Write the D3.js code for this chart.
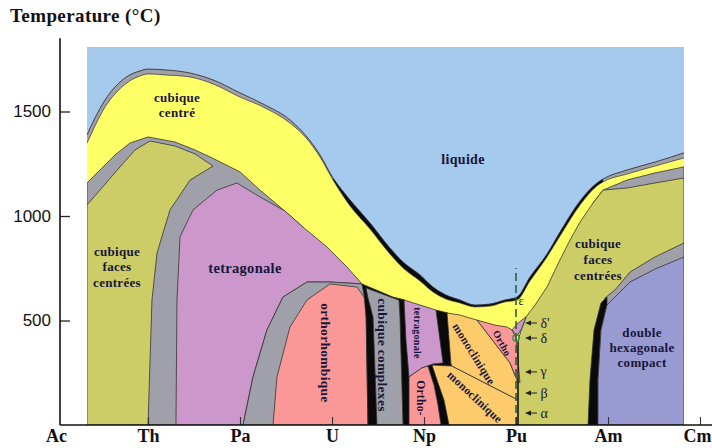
<!DOCTYPE html>
<html><head><meta charset="utf-8">
<script src="https://cdn.jsdelivr.net/npm/d3@7"></script>
<style>body{margin:0;background:#fff}svg{display:block}</style>
</head><body>
<svg id="chart" width="712" height="448"></svg>
<script>
// ---------- data: composition index (Ac=0 ... Cm=7), temperature °C ----------
const elements = ["Ac","Th","Pa","U","Np","Pu","Am","Cm"];
const tempTicks = [500, 1000, 1500];
const plotExtent = [0.337, 6.826];
const plotTopT = 1809;

const liquidus = [[0.337,1388],[0.424,1469],[0.533,1555],[0.641,1617],[0.783,1670],[0.913,1694],[1.0,1703],[1.185,1699],[1.457,1684],[1.707,1651],[2.0,1589],[2.25,1536],[2.543,1460],[2.728,1378],[2.87,1292],[3.011,1182],[3.196,1077],[3.413,967],[3.63,847],[3.772,780],[3.957,718],[4.098,660],[4.239,622],[4.391,598],[4.554,574],[4.717,579],[4.88,598],[5.011,612],[5.152,708],[5.337,818],[5.478,923],[5.696,1072],[5.88,1158],[5.946,1177],[6.207,1220],[6.511,1258],[6.826,1302]];
const bccTop = [[0.337,1349],[0.424,1431],[0.533,1522],[0.641,1584],[0.783,1641],[0.913,1670],[1.0,1680],[1.185,1675],[1.457,1665],[1.707,1632],[2.0,1569],[2.25,1522],[2.543,1445],[2.728,1369],[2.87,1282],[3.011,1172],[3.196,1048],[3.413,938],[3.63,818],[3.772,751],[3.957,689],[4.098,636],[4.239,603],[4.391,584],[4.554,565],[4.717,569],[4.88,589],[5.011,598],[5.152,689],[5.337,804],[5.478,904],[5.696,1053],[5.88,1144],[5.946,1163],[6.207,1201],[6.511,1239],[6.826,1278]];
const bccBottomLeft = [[0.337,1158],[0.478,1220],[0.641,1292],[0.804,1349],[1.0,1378],[1.293,1354],[1.511,1316],[1.696,1278],[2.0,1211],[2.217,1124],[2.435,1043],[2.685,947],[2.946,852],[3.163,756],[3.304,679]];
const bccBottomRight = [[5.109,517],[5.207,574],[5.337,660],[5.478,790],[5.587,885],[5.696,971],[5.837,1062],[5.946,1124],[6.207,1172],[6.511,1206],[6.826,1235]];
const fccAmTop = [[5.946,1124],[6.207,1134],[6.511,1158],[6.826,1182]];
const fccTh = [[0.337,1053],[0.478,1124],[0.696,1235],[0.859,1316],[1.022,1359],[1.293,1335],[1.511,1297],[1.707,1239],[1.457,1172],[1.239,1029],[1.098,823],[1.043,598],[1.0,0],[0.337,0]];
const tetraPa = [[1.967,1158],[2.217,1091],[2.489,1024],[2.685,947],[2.946,852],[3.163,756],[3.326,675],[2.978,684],[2.728,684],[2.467,612],[2.293,455],[2.141,230],[2.033,0],[1.304,0],[1.315,598],[1.348,900],[1.489,1029],[1.75,1124]];
const gammaUBand = [[2.033,0],[2.141,230],[2.293,455],[2.467,612],[2.728,684],[2.978,684],[3.326,675],[3.391,598],[3.413,0]];
const orthoU = [[2.359,0],[2.402,230],[2.543,469],[2.728,598],[2.978,675],[3.272,660],[3.37,598],[3.391,0]];
const betaUEdge = [[3.326,675],[3.663,612],[3.793,598],[3.815,517],[3.87,0],[3.391,0],[3.37,517],[3.348,622]];
const betaU = [[3.37,656],[3.663,608],[3.728,598],[3.739,517],[3.772,0],[3.489,0],[3.446,517],[3.391,608]];
const npEdge = [[4.13,550],[4.261,536],[4.326,287],[4.283,144],[4.272,0],[4.152,0],[4.033,282]];
const tetraNp = [[3.783,598],[3.957,574],[4.13,550],[4.207,297],[4.098,292],[3.978,273],[3.837,230],[3.804,407]];
const orthoNp = [[3.837,0],[3.837,230],[3.978,273],[4.043,282],[4.109,191],[4.152,96],[4.185,0]];
const monoLower = [[4.087,287],[4.304,282],[5.022,120],[5.022,0],[4.272,0],[4.217,120],[4.141,215]];
const monoUpper = [[4.25,536],[4.391,526],[4.576,502],[4.685,440],[4.826,359],[4.935,297],[5.022,201],[5.022,120],[4.304,282],[4.293,292]];
const orthoPu = [[4.576,502],[4.772,478],[4.902,469],[4.957,455],[5.0,416],[5.022,311],[5.043,201],[4.989,239],[4.935,297],[4.826,359],[4.685,440]];
const deltaPrime = [[4.957,455],[5.022,488],[5.109,517],[5.065,464],[5.011,426]];
const dhcpBand = [[5.967,608],[6.076,646],[6.239,732],[6.511,804],[6.826,871],[6.826,0],[5.891,0],[5.924,455]];
const dhcpEdge = [[5.783,0],[5.804,215],[5.848,455],[5.924,584],[5.989,612],[5.989,574],[5.924,455],[5.891,215],[5.891,0]];
const dhcp = [[5.891,0],[5.891,215],[5.924,455],[5.989,574],[6.239,684],[6.511,746],[6.826,804],[6.826,0]];
const puLine = [[5.0,0],[5.0,751]];
const puAllotropes = [{name:"δ'",t:488},{name:"δ",t:416},{name:"γ",t:254},{name:"β",t:153},{name:"α",t:57}];
const regionLabels = [
  {lines:["liquide"], x:4.424, t:1268, size:14},
  {lines:["cubique","centré"], x:1.315, t:1531, size:13, lh:15.5},
  {lines:["cubique","faces","centrées"], x:0.663, t:756, size:13, lh:15.5},
  {lines:["tetragonale"], x:2.054, t:751, size:14.5},
  {lines:["orthorhombique"], x:2.924, t:345, size:13.5, angle:90},
  {lines:["cubique complexes"], x:3.554, t:335, size:13.5, angle:90},
  {lines:["tetragonale"], x:3.924, t:440, size:10, angle:90},
  {lines:["Ortho-"], x:3.967, t:129, size:11.5, angle:90},
  {lines:["monoclinique"], x:4.543, t:340, size:11.5, angle:58},
  {lines:["monoclinique"], x:4.554, t:134, size:11.5, angle:43},
  {lines:["Ortho"], x:4.848, t:392, size:10, angle:62},
  {lines:["cubique","faces","centrées"], x:5.891, t:794, size:13, lh:16},
  {lines:["double","hexagonale","compact"], x:6.37, t:373, size:13, lh:15}
];

// ---------- drawing ----------
const C = {liquid:"#a6c9ee", bcc:"#ffff66", two:"#a0a0aa", fcc:"#cdcd68", tetra:"#cc98cc",
  ortho:"#fa9898", mono:"#fdca6c", dhcp:"#9a9ad2", black:"#0a0a0a", edge:"#333", text:"#16163a"};
const serif = "'Liberation Serif','Times New Roman',serif";

const svg = d3.select("#chart");
const x = d3.scaleLinear().domain([0, 7]).range([56, 700]);
const y = d3.scaleLinear().domain([0, 1800]).range([425, 48.8]);

svg.append("defs").append("clipPath").attr("id","clip").append("rect")
  .attr("x", x(plotExtent[0])).attr("y", y(plotTopT))
  .attr("width", x(plotExtent[1]) - x(plotExtent[0]))
  .attr("height", y(0) - y(plotTopT));
const field = svg.append("g").attr("clip-path","url(#clip)");

field.append("rect").attr("x", x(plotExtent[0])).attr("y", y(plotTopT))
  .attr("width", x(plotExtent[1]) - x(plotExtent[0])).attr("height", y(0) - y(plotTopT))
  .attr("fill", C.liquid);

const areaUnder = d3.area().x(d=>x(d[0])).y0(y(0)).y1(d=>y(d[1])).curve(d3.curveMonotoneX);
const smooth = d3.line().x(d=>x(d[0])).y(d=>y(d[1])).curve(d3.curveMonotoneX);
const poly = d3.line().x(d=>x(d[0])).y(d=>y(d[1]));
function polygon(pts, fill, sw) {
  field.append("path").attr("d", poly(pts) + "Z").attr("fill", fill)
    .attr("stroke", C.edge).attr("stroke-width", sw == null ? 0.8 : sw).attr("stroke-linejoin","round");
}

field.append("path").attr("d", areaUnder(liquidus)).attr("fill", C.two);
const band = liquidus.map((p,i)=>[p[0], p[1], bccTop[i][1]]).filter(d=>d[0]>=3.0 && d[0]<=5.95);
field.append("path").attr("d", d3.area().x(d=>x(d[0])).y0(d=>y(d[2])).y1(d=>y(d[1])).curve(d3.curveMonotoneX)(band))
  .attr("fill", C.black);
field.append("path").attr("d", areaUnder(bccTop)).attr("fill", C.bcc);
field.append("path").attr("d", smooth(liquidus)).attr("fill","none").attr("stroke",C.edge).attr("stroke-width",0.9);
field.append("path").attr("d", smooth(bccTop)).attr("fill","none").attr("stroke",C.edge).attr("stroke-width",0.7);

// left side solids
polygon(bccBottomLeft.filter(d=>d[0]<=2.69).concat([[2.685,0],[0.337,0]]), C.two);
polygon(fccTh, C.fcc);
polygon(tetraPa, C.tetra);
polygon(gammaUBand, C.two);
polygon(orthoU, C.ortho);
polygon(betaUEdge, C.black);
polygon(betaU, C.two);
polygon(npEdge, C.black);
polygon(tetraNp, C.tetra);
polygon(orthoNp, C.ortho);
polygon(monoLower, C.mono);
polygon(monoUpper, C.mono);

// right side solids
polygon(bccBottomRight.filter(d=>d[0]>=5.83).concat([[6.826,0],[5.837,0]]), C.two);
polygon([[5.022,0],[5.022,407],[5.065,464]]
  .concat(bccBottomRight.filter(d=>d[0]<=5.95))
  .concat(fccAmTop.filter(d=>d[0]>5.95))
  .concat([[6.826,0]]), C.fcc);
polygon(orthoPu, C.ortho);
polygon(deltaPrime, C.tetra);
polygon(dhcpBand, C.two);
polygon(dhcpEdge, C.black);
polygon(dhcp, C.dhcp);

// Pu details
field.append("line").attr("x1", x(5.022)).attr("x2", x(5.022)).attr("y1", y(0)).attr("y2", y(400))
  .attr("stroke", "#1a1a1a").attr("stroke-width", 1.4);
field.append("path").attr("d", poly(puLine)).attr("stroke", "#2f5c48").attr("stroke-width", 1.6)
  .attr("stroke-dasharray", "8,4").attr("fill", "none");
field.append("circle").attr("cx", x(5.0)).attr("cy", y(416)).attr("r", 3.2)
  .attr("fill","none").attr("stroke","#2e8b3a").attr("stroke-width",1.2);
svg.append("text").attr("x", x(5.054)).attr("y", y(593)).attr("text-anchor","middle")
  .attr("dominant-baseline","central").attr("font-family", serif).attr("font-size", 12)
  .attr("fill", C.text).text("ε");

const arr = svg.append("g");
puAllotropes.forEach(a => {
  const yy = y(a.t), tip = x(5.098), tail = x(5.228);
  arr.append("line").attr("x1", tip + 3).attr("x2", tail).attr("y1", yy).attr("y2", yy)
    .attr("stroke", "#222").attr("stroke-width", 1);
  arr.append("path").attr("d", `M${tip},${yy}L${tip+6},${yy-2.6}L${tip+6},${yy+2.6}Z`).attr("fill", "#222");
  arr.append("text").attr("x", x(5.265)).attr("y", yy).attr("dominant-baseline","central")
    .attr("font-family", serif).attr("font-size", 14).attr("fill", C.text).text(a.name);
});

// region labels
regionLabels.forEach(l => {
  const gg = svg.append("g").attr("transform", `translate(${x(l.x)},${y(l.t)}) rotate(${l.angle||0})`);
  const lh = l.lh || 0, n = l.lines.length;
  l.lines.forEach((s,i) => {
    gg.append("text").attr("x", 0).attr("y", (i - (n-1)/2) * lh)
      .attr("text-anchor","middle").attr("dominant-baseline","central")
      .attr("font-family", serif).attr("font-weight","bold").attr("font-size", l.size)
      .attr("letter-spacing", 0.3).attr("fill", C.text).text(s);
  });
});

// axes
const yAxis = d3.axisLeft(y).tickValues(tempTicks).tickSize(-10).tickPadding(9).tickFormat(d3.format("d"));
const ya = svg.append("g").attr("transform", "translate(60,0)").call(yAxis);
ya.select(".domain").remove();
ya.selectAll(".tick line").attr("stroke", "#222").attr("stroke-width", 1.3);
ya.selectAll(".tick text").attr("font-family","'Liberation Sans',Arial,sans-serif").attr("font-size", 17).attr("fill","#111");
svg.append("line").attr("x1", 60).attr("x2", 60).attr("y1", y(1850)).attr("y2", y(0))
  .attr("stroke", "#111").attr("stroke-width", 1.6);

const xAxis = d3.axisBottom(x).tickValues(d3.range(elements.length)).tickFormat(i => elements[i])
  .tickSize(-8).tickPadding(4);
const xa = svg.append("g").attr("transform", `translate(0,${y(0)})`).call(xAxis);
xa.select(".domain").remove();
xa.selectAll(".tick line").attr("stroke", "#333").attr("stroke-width", 1.1).filter(d => d === 0).remove();
xa.selectAll(".tick text").attr("font-family", serif).attr("font-weight","bold").attr("font-size", 18).attr("fill","#111");
// keep the last element label inside the page
xa.selectAll(".tick text").filter(d => d === elements.length - 1)
  .attr("text-anchor", "end").attr("x", 711 - x(elements.length - 1));
svg.append("line").attr("x1", 60).attr("x2", 712).attr("y1", y(0)).attr("y2", y(0))
  .attr("stroke", "#111").attr("stroke-width", 1.6);

svg.append("text").attr("x", 10).attr("y", 22).attr("font-family", serif).attr("font-weight","bold")
  .attr("font-size", 19).attr("letter-spacing", 0.4).attr("fill", "#111").text("Temperature (°C)");
</script>
</body></html>
